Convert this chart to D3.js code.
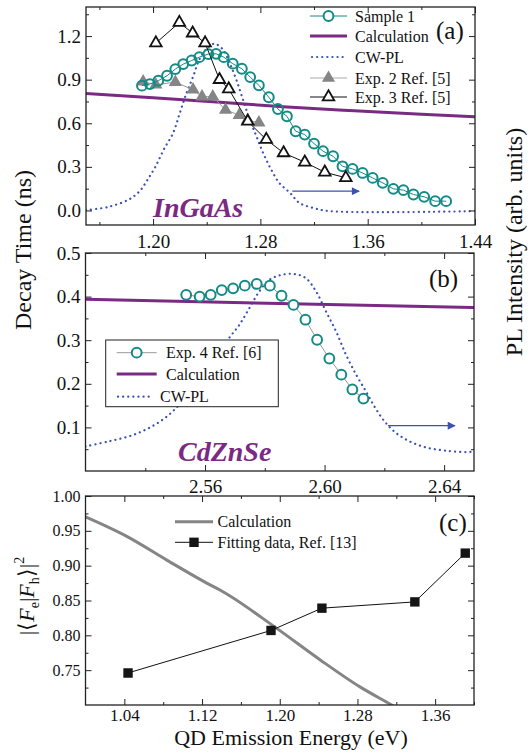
<!DOCTYPE html>
<html>
<head>
<meta charset="utf-8">
<script src="https://cdn.jsdelivr.net/npm/d3@7"></script>
<style>
body { margin: 0; background: #fff; }
text { font-family: "Liberation Serif", "Times New Roman", serif; fill: #111; }
</style>
</head>
<body>
<script>
//-----------------------------------------data------------------------------------------

// panel (a) InGaAs
var sample1E = [1.1917, 1.1976, 1.2039, 1.2104, 1.2166, 1.2225, 1.2288, 1.2345, 1.2412, 1.2470,
                1.2527, 1.2594, 1.2662, 1.2724, 1.2789, 1.2863, 1.2931, 1.2998, 1.3063, 1.3131,
                1.3200, 1.3267, 1.3342, 1.3412, 1.3487, 1.3562, 1.3637, 1.3712, 1.3791, 1.3866,
                1.3941, 1.4021, 1.4103, 1.4185];
var sample1T = [0.859, 0.870, 0.893, 0.927, 0.973, 1.007, 1.032, 1.055, 1.076, 1.078,
                1.055, 1.010, 0.975, 0.918, 0.861, 0.779, 0.698, 0.648, 0.545, 0.522,
                0.460, 0.408, 0.373, 0.304, 0.286, 0.258, 0.224, 0.190, 0.149, 0.140,
                0.110, 0.094, 0.064, 0.064];
var calcAE = [1.15, 1.20, 1.25, 1.30, 1.35, 1.40, 1.44];
var calcAT = [0.805, 0.776, 0.745, 0.712, 0.686, 0.662, 0.645];
var plAE = [1.150, 1.167, 1.182, 1.190, 1.196, 1.202, 1.208, 1.215, 1.220, 1.225, 1.230, 1.2345,
            1.2395, 1.2457, 1.252, 1.257, 1.262, 1.267, 1.272, 1.277, 1.282, 1.288, 1.294, 1.302,
            1.309, 1.319, 1.332, 1.44];
var plAI = [0.002, 0.022, 0.066, 0.116, 0.186, 0.266, 0.366, 0.466, 0.586, 0.706, 0.806, 0.906,
            0.966, 1.0, 0.966, 0.886, 0.786, 0.666, 0.546, 0.446, 0.346, 0.246, 0.166, 0.106,
            0.046, 0.016, -0.004, -0.004];
var exp2E = [1.1926, 1.2021, 1.2166, 1.2298, 1.2365, 1.2445, 1.2540, 1.2642, 1.2704, 1.2789];
var exp2T = [0.886, 0.865, 0.883, 0.831, 0.783, 0.783, 0.692, 0.656, 0.622, 0.604];
var exp3E = [1.2021, 1.2196, 1.2295, 1.2388, 1.2495, 1.2564, 1.2706, 1.2844, 1.2973, 1.3131, 1.3280, 1.3437];
var exp3T = [1.152, 1.293, 1.220, 1.152, 0.900, 0.836, 0.613, 0.488, 0.396, 0.332, 0.263, 0.225];
var arrowA = {e0: 1.3038, e1: 1.3536, t: 0.133};

// panel (b) CdZnSe
var exp4E = [2.5537, 2.5582, 2.5619, 2.5656, 2.5694, 2.5733, 2.5773, 2.5817, 2.5856, 2.5896,
             2.5936, 2.5975, 2.6016, 2.6056, 2.6093, 2.6130];
var exp4T = [0.404, 0.400, 0.404, 0.415, 0.419, 0.425, 0.429, 0.425, 0.402, 0.381,
             0.347, 0.301, 0.258, 0.221, 0.187, 0.166];
var calcBE = [2.52, 2.585, 2.65];
var calcBT = [0.394, 0.384, 0.375];
var plBE = [2.520, 2.5277, 2.5356, 2.5423, 2.5479, 2.5523, 2.5580, 2.5636, 2.5680, 2.5714, 2.5748,
            2.5781, 2.5815, 2.5854, 2.5899, 2.5938, 2.5972, 2.6005, 2.6039, 2.6072, 2.6106, 2.6139,
            2.6167, 2.6201, 2.6240, 2.6285, 2.6341, 2.6408, 2.6475, 2.650];
var plBI = [0.125, 0.150, 0.181, 0.227, 0.285, 0.353, 0.463, 0.573, 0.674, 0.740, 0.826,
            0.910, 0.970, 0.995, 1.0, 0.978, 0.910, 0.809, 0.707, 0.589, 0.488, 0.403,
            0.327, 0.251, 0.192, 0.150, 0.119, 0.103, 0.096, 0.099];
var arrowB = {e0: 2.6212, e1: 2.6436, t: 0.104};

// panel (c) overlap
var calcCE = [1.000, 1.0425, 1.0837, 1.1248, 1.1385, 1.1969, 1.2414, 1.2826, 1.3153, 1.33];
var calcCV = [0.970, 0.942, 0.908, 0.875, 0.865, 0.810, 0.765, 0.726, 0.700, 0.688];
var fitE = [1.0438, 1.1910, 1.2434, 1.3391, 1.3910];
var fitV = [0.746, 0.807, 0.839, 0.848, 0.918];

// tick values
var aXMajor = [1.20, 1.28, 1.36, 1.44], aXMinor = [1.16, 1.24, 1.32, 1.40];
var aYMajor = [0.0, 0.3, 0.6, 0.9, 1.2], aYMinor = [0.15, 0.45, 0.75, 1.05, 1.35];
var bXMajor = [2.56, 2.60, 2.64], bXMinor = [2.54, 2.58, 2.62];
var bYMajor = [0.1, 0.2, 0.3, 0.4, 0.5], bYMinor = [0.05, 0.15, 0.25, 0.35, 0.45];
var cXMajor = [1.04, 1.12, 1.20, 1.28, 1.36], cXMinor = [1.08, 1.16, 1.24, 1.32, 1.40];
var cYMajor = [0.75, 0.80, 0.85, 0.90, 0.95, 1.00], cYMinor = [0.725, 0.775, 0.825, 0.875, 0.925, 0.975];

//-----------------------------------------SVG-------------------------------------------

var svg = d3.select("body").append("svg")
    .attr("width", 531)
    .attr("height", 752);

var purple = "#7a2a83", teal = "#128a85", blue = "#3a52b5", gray = "#858585";

var defs = svg.append("defs");
defs.append("marker")
    .attr("id", "arr")
    .attr("viewBox", "0 0 10 10")
    .attr("refX", 9).attr("refY", 5)
    .attr("markerWidth", 10).attr("markerHeight", 8)
    .attr("markerUnits", "userSpaceOnUse")
    .attr("orient", "auto")
  .append("path")
    .attr("d", "M0,0L10,5L0,10Z")
    .attr("fill", blue);

function zip(a, b) { return a.map(function(d, i) { return [d, b[i]]; }); }

function panel(id, x, y) {
  var r = x.range(), t = y.range();
  defs.append("clipPath").attr("id", "clip" + id)
    .append("rect").attr("x", r[0]).attr("y", t[1]).attr("width", r[1] - r[0]).attr("height", t[0] - t[1]);
  var g = svg.append("g");
  var plot = g.append("g").attr("clip-path", "url(#clip" + id + ")");
  return {g: g, plot: plot};
}

function axes(g, x, y, o) {
  var r = x.range(), t = y.range();
  var sides = [
    [d3.axisBottom(x), "translate(0," + t[0] + ")", o.xMajor, o.xMinor, true],
    [d3.axisTop(x), "translate(0," + t[1] + ")", o.xMajor, o.xMinor, false],
    [d3.axisLeft(y), "translate(" + r[0] + ",0)", o.yMajor, o.yMinor, true],
    [d3.axisRight(y), "translate(" + r[1] + ",0)", o.yMajor, o.yMinor, false]
  ];
  sides.forEach(function(s, i) {
    var isX = i < 2;
    var maj = s[0].tickValues(s[2]).tickSize(-6)
        .tickPadding(isX ? o.xPad : 5)
        .tickFormat(s[4] ? d3.format(isX ? o.xFmt : o.yFmt) : "");
    var ax = g.append("g").attr("transform", s[1]).call(maj);
    ax.attr("font-size", isX ? o.xFont : o.yFont).attr("font-family", null);
    ax.select(".domain").remove();
    ax.selectAll("line").attr("stroke", "#222");
    var mk = (i === 0 ? d3.axisBottom(x) : i === 1 ? d3.axisTop(x) : i === 2 ? d3.axisLeft(y) : d3.axisRight(y))
        .tickValues(s[3]).tickSize(-3).tickFormat("");
    var mi = g.append("g").attr("transform", s[1]).call(mk);
    mi.select(".domain").remove();
    mi.selectAll("line").attr("stroke", "#222");
  });
  g.append("rect")
    .attr("x", r[0]).attr("y", t[1])
    .attr("width", r[1] - r[0]).attr("height", t[0] - t[1])
    .attr("fill", "none").attr("stroke", "#222").attr("stroke-width", 1.3);
}

function lineGen(x, y, curve) {
  return d3.line().x(function(d) { return x(d[0]); }).y(function(d) { return y(d[1]); }).curve(curve || d3.curveLinear);
}

function dotted(sel) {
  return sel.attr("fill", "none").attr("stroke", blue).attr("stroke-width", 2.2)
    .attr("stroke-linecap", "round").attr("stroke-dasharray", "0.1,5");
}

//-----------------------------------------panel (a)--------------------------------------

var xA = d3.scaleLinear().domain([1.15, 1.44]).range([86, 475]);
var yA = d3.scaleLinear().domain([-0.1, 1.4]).range([225, 7]);
var plA = d3.scaleLinear().domain([0, 1]).range([yA(0), yA(1.147)]);
var pa = panel("a", xA, yA);

pa.plot.append("path").datum(zip(plAE, plAI))
    .attr("d", lineGen(xA, plA, d3.curveCatmullRom)).call(dotted);
pa.plot.append("path").datum(zip(calcAE, calcAT))
    .attr("d", lineGen(xA, yA, d3.curveMonotoneX))
    .attr("fill", "none").attr("stroke", purple).attr("stroke-width", 3);

pa.plot.append("path").datum(zip(exp2E, exp2T))
    .attr("d", lineGen(xA, yA)).attr("fill", "none").attr("stroke", "#999").attr("stroke-width", 1);
pa.plot.selectAll(".e2").data(zip(exp2E, exp2T)).enter().append("path")
    .attr("transform", function(d) { return "translate(" + xA(d[0]) + "," + yA(d[1]) + ")"; })
    .attr("d", d3.symbol(d3.symbolTriangle, 75)).attr("fill", gray);

pa.plot.append("path").datum(zip(sample1E, sample1T))
    .attr("d", lineGen(xA, yA)).attr("fill", "none").attr("stroke", teal).attr("stroke-width", 1);
pa.plot.selectAll(".s1").data(zip(sample1E, sample1T)).enter().append("circle")
    .attr("cx", function(d) { return xA(d[0]); }).attr("cy", function(d) { return yA(d[1]); })
    .attr("r", 4.9).attr("fill", "none").attr("stroke", teal).attr("stroke-width", 2);

pa.plot.append("path").datum(zip(exp3E, exp3T))
    .attr("d", lineGen(xA, yA)).attr("fill", "none").attr("stroke", "#111").attr("stroke-width", 1);
pa.plot.selectAll(".e3").data(zip(exp3E, exp3T)).enter().append("path")
    .attr("transform", function(d) { return "translate(" + xA(d[0]) + "," + yA(d[1]) + ")"; })
    .attr("d", d3.symbol(d3.symbolTriangle, 58)).attr("fill", "#fff").attr("stroke", "#111").attr("stroke-width", 1.8);

pa.g.append("line")
    .attr("x1", xA(arrowA.e0)).attr("x2", xA(arrowA.e1))
    .attr("y1", yA(arrowA.t)).attr("y2", yA(arrowA.t))
    .attr("stroke", blue).attr("stroke-width", 1.3).attr("marker-end", "url(#arr)");

axes(pa.g, xA, yA, {xMajor: aXMajor, xMinor: aXMinor, yMajor: aYMajor, yMinor: aYMinor,
  xFmt: ".2f", yFmt: ".1f", xPad: 10, xFont: 19, yFont: 19});

// legend (a)
var legA = pa.g.append("g");
var rowsA = [16, 36, 57, 78, 97];
legA.append("line").attr("x1", 310).attr("x2", 347).attr("y1", rowsA[0]).attr("y2", rowsA[0]).attr("stroke", teal).attr("stroke-width", 1);
legA.append("circle").attr("cx", 328.5).attr("cy", rowsA[0]).attr("r", 4.9).attr("fill", "#fff").attr("stroke", teal).attr("stroke-width", 2);
legA.append("line").attr("x1", 310).attr("x2", 347).attr("y1", rowsA[1]).attr("y2", rowsA[1]).attr("stroke", purple).attr("stroke-width", 3);
legA.append("line").attr("x1", 312).attr("x2", 347).attr("y1", rowsA[2]).attr("y2", rowsA[2]).call(dotted);
legA.append("line").attr("x1", 310).attr("x2", 347).attr("y1", rowsA[3]).attr("y2", rowsA[3]).attr("stroke", "#aaa").attr("stroke-width", 1);
legA.append("path").attr("transform", "translate(328.5," + rowsA[3] + ")").attr("d", d3.symbol(d3.symbolTriangle, 75)).attr("fill", gray);
legA.append("line").attr("x1", 310).attr("x2", 347).attr("y1", rowsA[4]).attr("y2", rowsA[4]).attr("stroke", "#111").attr("stroke-width", 1);
legA.append("path").attr("transform", "translate(328.5," + rowsA[4] + ")").attr("d", d3.symbol(d3.symbolTriangle, 58)).attr("fill", "#fff").attr("stroke", "#111").attr("stroke-width", 1.8);
legA.selectAll("text").data(["Sample 1", "Calculation", "CW-PL", "Exp. 2 Ref. [5]", "Exp. 3 Ref. [5]"]).enter().append("text")
    .attr("x", 355).attr("y", function(d, i) { return rowsA[i] + 5.5; })
    .attr("font-size", 16).text(function(d) { return d; });

pa.g.append("text").attr("x", 436).attr("y", 39).attr("font-size", 25).text("(a)");
pa.g.append("text").attr("x", 153).attr("y", 217).attr("font-size", 28)
    .attr("font-weight", "bold").attr("font-style", "italic").style("fill", purple).text("InGaAs");

//-----------------------------------------panel (b)--------------------------------------

var xB = d3.scaleLinear().domain([2.52, 2.65]).range([85.5, 474]);
var yB = d3.scaleLinear().domain([0, 0.5]).range([471, 253]);
var plB = d3.scaleLinear().domain([0, 1]).range([471, 274]);
var pb = panel("b", xB, yB);

pb.plot.append("path").datum(zip(plBE, plBI))
    .attr("d", lineGen(xB, plB, d3.curveCatmullRom)).call(dotted);
pb.plot.append("path").datum(zip(calcBE, calcBT))
    .attr("d", lineGen(xB, yB, d3.curveMonotoneX))
    .attr("fill", "none").attr("stroke", purple).attr("stroke-width", 3);
pb.plot.append("path").datum(zip(exp4E, exp4T))
    .attr("d", lineGen(xB, yB)).attr("fill", "none").attr("stroke", "#999").attr("stroke-width", 1);
pb.plot.selectAll(".e4").data(zip(exp4E, exp4T)).enter().append("circle")
    .attr("cx", function(d) { return xB(d[0]); }).attr("cy", function(d) { return yB(d[1]); })
    .attr("r", 4.9).attr("fill", "#fff").attr("stroke", teal).attr("stroke-width", 2);

pb.g.append("line")
    .attr("x1", xB(arrowB.e0)).attr("x2", xB(arrowB.e1))
    .attr("y1", yB(arrowB.t)).attr("y2", yB(arrowB.t))
    .attr("stroke", blue).attr("stroke-width", 1.3).attr("marker-end", "url(#arr)");

axes(pb.g, xB, yB, {xMajor: bXMajor, xMinor: bXMinor, yMajor: bYMajor, yMinor: bYMinor,
  xFmt: ".2f", yFmt: ".1f", xPad: 8.5, xFont: 19, yFont: 19});

// legend (b)
var legB = pb.g.append("g");
legB.append("rect").attr("x", 105.7).attr("y", 340).attr("width", 172.6).attr("height", 66.7)
    .attr("fill", "#fff").attr("stroke", "#222").attr("stroke-width", 1);
var rowsB = [352.7, 374, 396.7];
legB.append("line").attr("x1", 116.7).attr("x2", 156.7).attr("y1", rowsB[0]).attr("y2", rowsB[0]).attr("stroke", "#999").attr("stroke-width", 1);
legB.append("circle").attr("cx", 136.7).attr("cy", rowsB[0]).attr("r", 4.9).attr("fill", "#fff").attr("stroke", teal).attr("stroke-width", 2);
legB.append("line").attr("x1", 116.7).attr("x2", 156.7).attr("y1", rowsB[1]).attr("y2", rowsB[1]).attr("stroke", purple).attr("stroke-width", 3);
legB.append("line").attr("x1", 118).attr("x2", 153).attr("y1", rowsB[2]).attr("y2", rowsB[2]).call(dotted);
legB.selectAll("text").data(["Exp. 4 Ref. [6]", "Calculation", "CW-PL"]).enter().append("text")
    .attr("x", function(d, i) { return i === 2 ? 160 : 166; })
    .attr("y", function(d, i) { return rowsB[i] + 5.5; })
    .attr("font-size", 16).text(function(d) { return d; });

pb.g.append("text").attr("x", 429).attr("y", 287).attr("font-size", 25).text("(b)");
pb.g.append("text").attr("x", 178).attr("y", 461).attr("font-size", 28)
    .attr("font-weight", "bold").attr("font-style", "italic").style("fill", purple).text("CdZnSe");

//-----------------------------------------panel (c)--------------------------------------

var xC = d3.scaleLinear().domain([1.00, 1.40]).range([85.5, 474]);
var yC = d3.scaleLinear().domain([0.70, 1.00]).range([705, 496]);
var pc = panel("c", xC, yC);

pc.plot.append("path").datum(zip(calcCE, calcCV))
    .attr("d", lineGen(xC, yC, d3.curveMonotoneX))
    .attr("fill", "none").attr("stroke", gray).attr("stroke-width", 3);
pc.plot.append("path").datum(zip(fitE, fitV))
    .attr("d", lineGen(xC, yC)).attr("fill", "none").attr("stroke", "#111").attr("stroke-width", 1);
pc.plot.selectAll(".ft").data(zip(fitE, fitV)).enter().append("path")
    .attr("transform", function(d) { return "translate(" + xC(d[0]) + "," + yC(d[1]) + ")"; })
    .attr("d", d3.symbol(d3.symbolSquare, 88)).attr("fill", "#151515");

axes(pc.g, xC, yC, {xMajor: cXMajor, xMinor: cXMinor, yMajor: cYMajor, yMinor: cYMinor,
  xFmt: ".2f", yFmt: ".2f", xPad: 3.5, xFont: 17, yFont: 16});

var legC = pc.g.append("g");
legC.append("line").attr("x1", 175).attr("x2", 213).attr("y1", 521.7).attr("y2", 521.7).attr("stroke", gray).attr("stroke-width", 3);
legC.append("line").attr("x1", 175).attr("x2", 213).attr("y1", 542.3).attr("y2", 542.3).attr("stroke", "#111").attr("stroke-width", 1);
legC.append("path").attr("transform", "translate(194,542.3)").attr("d", d3.symbol(d3.symbolSquare, 88)).attr("fill", "#151515");
legC.selectAll("text").data(["Calculation", "Fitting data, Ref. [13]"]).enter().append("text")
    .attr("x", 217.5).attr("y", function(d, i) { return [521.7, 542.3][i] + 5.5; })
    .attr("font-size", 16).text(function(d) { return d; });

pc.g.append("text").attr("x", 439).attr("y", 531).attr("font-size", 25).text("(c)");

//-----------------------------------------axis titles-------------------------------------

svg.append("text").attr("transform", "translate(31,250) rotate(-90)")
    .attr("text-anchor", "middle").attr("font-size", 24).text("Decay Time (ns)");
svg.append("text").attr("transform", "translate(522,242) rotate(-90)")
    .attr("text-anchor", "middle").attr("font-size", 24).text("PL Intensity (arb. units)");
svg.append("text").attr("x", 291).attr("y", 745)
    .attr("text-anchor", "middle").attr("font-size", 22).text("QD Emission Energy (eV)");

var yl = svg.append("text").attr("transform", "translate(34,596) rotate(-90)")
    .attr("text-anchor", "middle").attr("font-size", 22);
yl.append("tspan").text("|\u27E8");
yl.append("tspan").attr("font-style", "italic").text("F");
yl.append("tspan").attr("font-size", 14).attr("dy", 5).text("e");
yl.append("tspan").attr("dy", -5).text("|");
yl.append("tspan").attr("font-style", "italic").text("F");
yl.append("tspan").attr("font-size", 14).attr("dy", 5).text("h");
yl.append("tspan").attr("dy", -5).text("\u27E9|");
yl.append("tspan").attr("font-size", 14).attr("dy", -10).text("2");
</script>
</body>
</html>
